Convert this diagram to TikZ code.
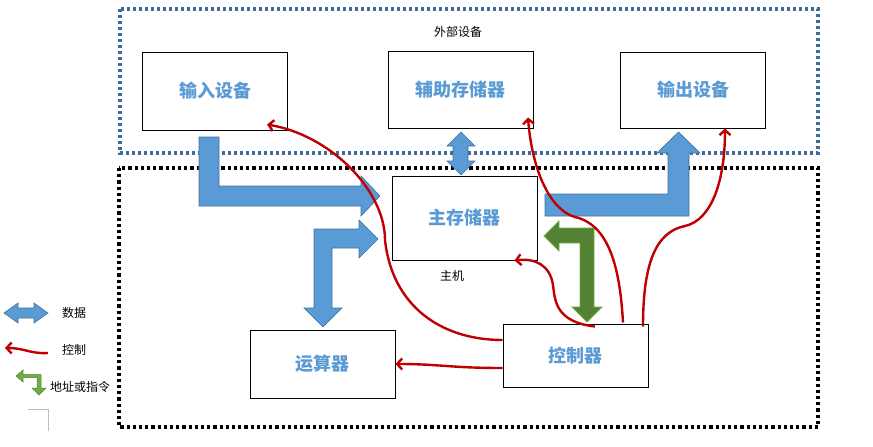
\documentclass[tikz,border=0pt]{standalone}
\usepackage{fontspec}
\usepackage{xcolor}
\usetikzlibrary{arrows.meta}
\newfontfamily\cjk{Noto Sans CJK SC}
\definecolor{datafill}{RGB}{91,155,213}
\definecolor{dataedge}{RGB}{65,113,156}
\definecolor{ctrlred}{RGB}{192,0,0}
\definecolor{addrfill}{RGB}{84,130,53}
\definecolor{addredge}{RGB}{112,173,71}
\definecolor{outerblue}{RGB}{62,108,154}

\begin{document}
\begin{tikzpicture}[x=1pt,y=-1pt,
    unit/.style={draw, fill=white, line width=1pt, minimum width=145pt,
      font=\cjk\bfseries\fontsize{18}{20}\selectfont, text=datafill},
    note/.style={font=\cjk\fontsize{12}{14}\selectfont},
    ctl/.style={draw=ctrlred, line width=2.4pt,
      -{Straight Barb[length=5pt,width=11pt]}},
    datarrow/.style={fill=datafill, draw=dataedge, line width=0.6pt},
    addrarrow/.style={fill=addrfill, draw=addredge, line width=0.8pt}]
    \useasboundingbox (0,0) rectangle (873,447);

    % Frames
    \draw[outerblue, line width=3.2pt, dash pattern=on 3pt off 3pt] (120,9) rectangle (818,153);
    \draw[black, line width=3.6pt, dash pattern=on 3.2pt off 3pt] (119,168) rectangle (818,427);
    \node[note] (outer) at (458,32) {外部设备};
    \node[note] (host) at (452,276) {主机};

    % Data arrows
    \draw[datarrow] (199,137) -- (219,137) -- (219,186) -- (361,186) -- (361,176) -- (380,196)
        -- (361,216) -- (361,206) -- (199,206) -- cycle;
    \draw[datarrow] (314,229) -- (359,229) -- (359,220) -- (378,239) -- (359,258) -- (359,248)
        -- (332,248) -- (332,308) -- (342,308) -- (323,327) -- (304,308) -- (314,308) -- cycle;
    \draw[datarrow] (545,194) -- (668,194) -- (668,153) -- (657,153) -- (678.5,132) -- (700,153)
        -- (689,153) -- (689,216) -- (545,216) -- cycle;
    \draw[datarrow] (461,132) -- (475,146) -- (468,146) -- (468,161) -- (475,161) -- (461,175)
        -- (447,161) -- (453,161) -- (453,146) -- (447,146) -- cycle;

    % Address arrow
    \draw[addrarrow] (544,236) -- (559,221) -- (559,228) -- (594,228) -- (594,307) -- (602,307)
        -- (587,322) -- (572,307) -- (580,307) -- (580,243) -- (559,243) -- (559,251) -- cycle;

    % Units
    \node[unit, minimum height=78pt] (input) at (215,91) {输入设备};
    \node[unit, minimum height=77pt] (aux) at (460.5,89.5) {辅助存储器};
    \node[unit, minimum height=76pt] (output) at (693,90) {输出设备};
    \node[unit, minimum height=84pt] (main) at (464.5,218) {主存储器};
    \node[unit, minimum height=63pt] (ctrl) at (575.5,355.5) {控制器};
    \node[unit, minimum height=68pt] (alu) at (322.5,364) {运算器};

    % Control lines
    \draw[ctl] ([yshift=15.5pt]ctrl.west) .. controls (440,340) and (392,305) .. (385,240)
        .. controls (385,190) and (330,135) .. ([xshift=52pt,yshift=6pt]input.south);
    \draw[ctl] ([yshift=-12.5pt]ctrl.west) .. controls (450,368) and (440,364) .. (alu.east);
    \draw[ctl] ([xshift=19.5pt,yshift=-3pt]ctrl.north) .. controls (555,322) and (555,300) .. (553,285)
        .. controls (550,265) and (535,258) .. ([xshift=50pt]main.south);
    \draw[ctl] ([xshift=47.5pt,yshift=1pt]ctrl.north) .. controls (620,270) and (610,225) .. (575,217)
        .. controls (550,210) and (532,170) .. ([xshift=67.5pt,yshift=11pt]aux.south);
    \draw[ctl] ([xshift=67.5pt,yshift=-3pt]ctrl.north) .. controls (643,265) and (655,232) .. (685,226)
        .. controls (712,220) and (725,180) .. ([xshift=32pt]output.south);

    % Legend
    \draw[datarrow] (4,313) -- (18,303) -- (18,308) -- (34,308) -- (34,303) -- (48,313) -- (34,323)
        -- (34,318) -- (18,318) -- (18,323) -- cycle;
    \node[note] (datalabel) at (74,313) {数据};
    \draw[ctl] (48,353) .. controls (30,354) and (25,348) .. (5,348);
    \node[note] (ctllabel) at (74,350) {控制};
    \draw[fill=addredge, draw=addrfill, line width=0.5pt] (16,376) -- (23,370) -- (23,374.5) -- (41,374.5) -- (41,388)
        -- (46,388) -- (39,395) -- (32,388) -- (37,388) -- (37,377.5) -- (23,377.5) -- (23,382) -- cycle;
    \node[note] (addrlabel) at (80,387) {地址或指令};
    \draw[gray!50, line width=0.6pt] (28,409) -- (48,409) -- (48,431);
\end{tikzpicture}
\end{document}
